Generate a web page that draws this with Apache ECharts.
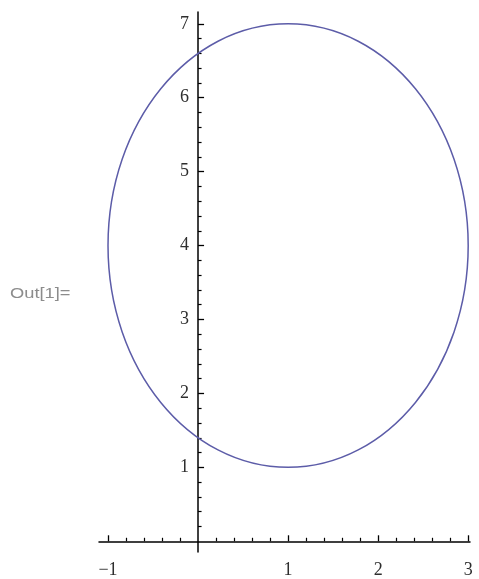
<!DOCTYPE html>
<html>
<head>
<meta charset="utf-8">
<script src="https://cdn.jsdelivr.net/npm/echarts@6/dist/echarts.min.js"></script>
<style>html,body{margin:0;padding:0;background:#fff}#c{width:479px;height:579px}</style>
</head>
<body>
<div id="c"></div>
<script>
// Ellipse: center (cx, cy), semi-axes (rx, ry)
const ellipseCenter = [1, 4];
const ellipseRadii = [2, 3];

const xMajorTicks = [-1, 1, 2, 3];
const xMinorTicks = [-0.8, -0.6, -0.4, -0.2, 0.2, 0.4, 0.6, 0.8, 1.2, 1.4, 1.6, 1.8, 2.2, 2.4, 2.6, 2.8];
const yMajorTicks = [1, 2, 3, 4, 5, 6, 7];
const yMinorTicks = [0.2, 0.4, 0.6, 0.8, 1.2, 1.4, 1.6, 1.8, 2.2, 2.4, 2.6, 2.8, 3.2, 3.4, 3.6, 3.8,
  4.2, 4.4, 4.6, 4.8, 5.2, 5.4, 5.6, 5.8, 6.2, 6.4, 6.6, 6.8];
const outLabel = 'Out[1]=';

const chart = echarts.init(document.getElementById('c'), null, {renderer: 'canvas'});
const labelFont = {fontFamily: 'Liberation Serif', fontSize: 18, fontWeight: 'normal', color: '#2e2e2e'};
const fmt = v => (v < 0 ? '\u2212' + Math.abs(v) : String(v));

const gridLeft = 99;
const xBase = {type: 'value', min: -1.1, max: 3.02, splitLine: {show: false}, position: 'bottom'};
const yBase = {type: 'value', min: -0.145, max: 7.16, splitLine: {show: false}, position: 'left'};

function build(yOffset) {
  return {
    animation: false,
    grid: {left: gridLeft, right: 9, top: 12, bottom: 12, containLabel: false},
    graphic: [{
      type: 'text', left: 10, top: 286,
      style: {text: outLabel, font: '15px "Liberation Sans"', fill: '#8c8c8c'},
      scaleX: 1.22
    }],
    xAxis: [
      Object.assign({}, xBase, {
        axisLine: {onZero: true, onZeroAxisIndex: 0, lineStyle: {color: '#000', width: 1.5}},
        axisTick: {inside: true, length: 6, customValues: xMajorTicks, lineStyle: {color: '#000', width: 1.3}},
        axisLabel: Object.assign({customValues: xMajorTicks, margin: 9, formatter: fmt}, labelFont)
      }),
      Object.assign({}, xBase, {
        axisLine: {show: false, onZero: true, onZeroAxisIndex: 0},
        axisTick: {inside: true, length: 3.5, customValues: xMinorTicks, lineStyle: {color: '#000', width: 1.2}},
        axisLabel: {show: false}
      })
    ],
    yAxis: [
      Object.assign({}, yBase, {
        offset: yOffset,
        axisLine: {show: true, onZero: false, lineStyle: {color: '#000', width: 1.5}},
        axisTick: {show: true, inside: true, length: 6, customValues: yMajorTicks, lineStyle: {color: '#000', width: 1.3}},
        axisLabel: Object.assign({customValues: yMajorTicks, margin: 9, formatter: fmt}, labelFont)
      }),
      Object.assign({}, yBase, {
        offset: yOffset,
        axisLine: {show: false, onZero: false},
        axisTick: {show: true, inside: true, length: 3.5, customValues: yMinorTicks, lineStyle: {color: '#000', width: 1.2}},
        axisLabel: {show: false}
      })
    ],
    series: [{
      type: 'custom',
      coordinateSystem: 'cartesian2d',
      xAxisIndex: 0, yAxisIndex: 0,
      data: [[ellipseCenter[0], ellipseCenter[1], ellipseRadii[0], ellipseRadii[1]]],
      renderItem: function (params, api) {
        const c = api.coord([api.value(0), api.value(1)]);
        const s = api.size([api.value(2), api.value(3)]);
        return {
          type: 'ellipse',
          shape: {cx: c[0], cy: c[1], rx: s[0], ry: s[1]},
          style: {fill: 'none', stroke: '#5c5ca8', lineWidth: 1.5}
        };
      }
    }]
  };
}

chart.setOption(build(0));
// place the vertical axis at x = 0 using the x scale
const zeroX = chart.convertToPixel({xAxisIndex: 0}, 0);
chart.setOption(build(gridLeft - zeroX), {notMerge: true});
</script>
</body>
</html>
